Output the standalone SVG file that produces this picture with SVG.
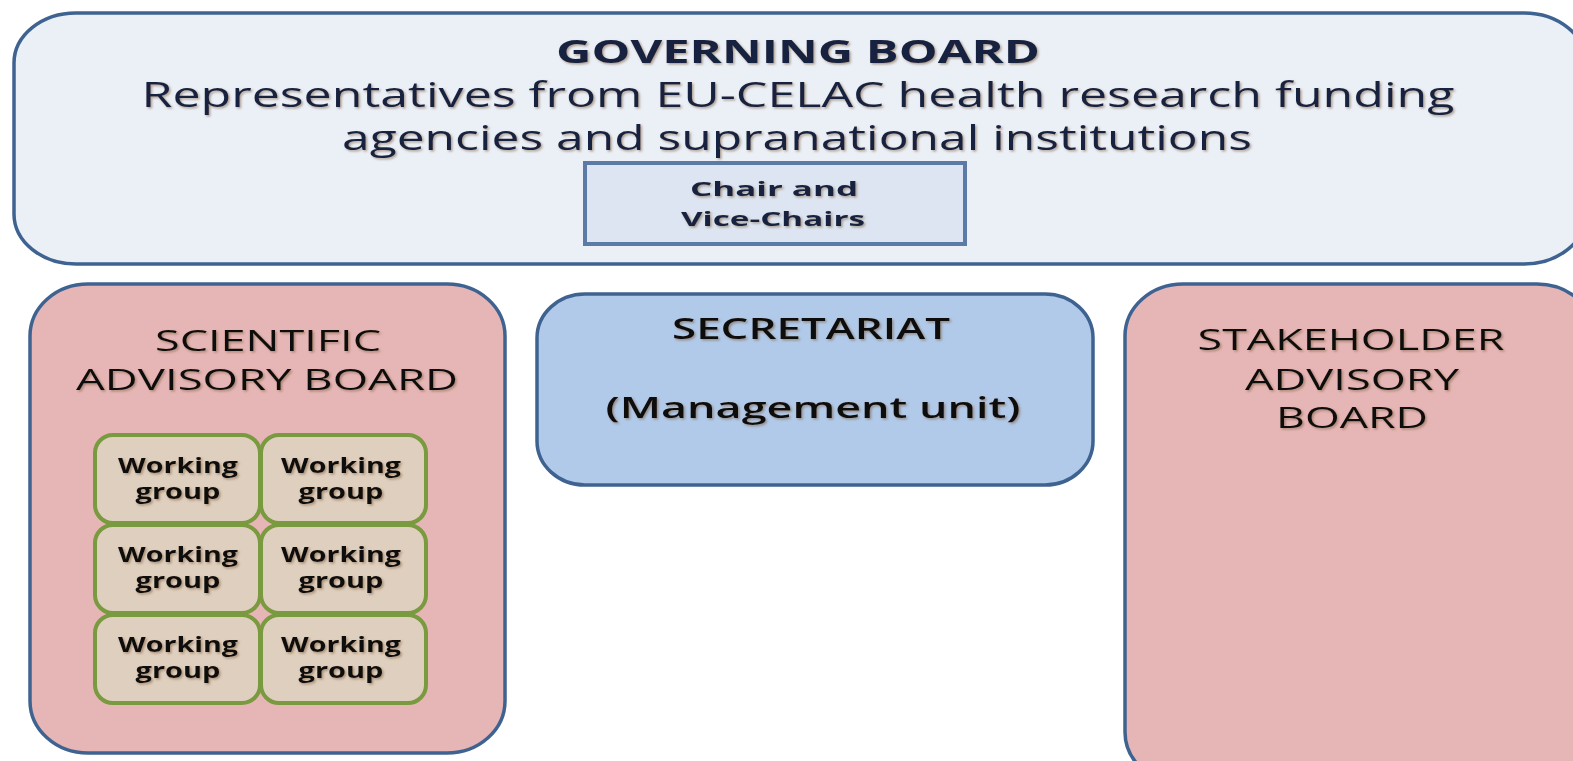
<svg xmlns="http://www.w3.org/2000/svg" width="1573" height="761" viewBox="0 0 1573 761">
<defs>
<filter id="ts" x="-5%" y="-20%" width="110%" height="140%">
<feDropShadow dx="1.5" dy="1.5" stdDeviation="1" flood-color="#7a5a3a" flood-opacity="0.55"/>
</filter>
</defs>
<style>
.box{stroke:#3f6391;stroke-width:3.5}
.gb{fill:#ebf0f7}
.pink{fill:#e6b6b6}
.sec{fill:#b1caea}
.chair{fill:#dce5f1;stroke:#5b7ba6;stroke-width:4}
.wg{fill:#dfcfbe;stroke:#7a9a40;stroke-width:4}
text{font-family:"Open Sans","Liberation Sans",sans-serif;text-anchor:middle;filter:url(#ts)}
.navy{fill:#16243f}
.blk{fill:#111111}
.b{font-weight:bold}
.m{font-weight:600}
.r{font-weight:500}
</style>
<g id="governing-board">
<rect class="box gb" x="14" y="13" width="1572" height="251" rx="62" ry="50"/>
<text class="navy b" x="798" y="63" font-size="32" textLength="484" lengthAdjust="spacingAndGlyphs">GOVERNING BOARD</text>
<text class="navy r" x="798" y="107" font-size="34" textLength="1313" lengthAdjust="spacingAndGlyphs">Representatives from EU-CELAC health research funding</text>
<text class="navy r" x="797" y="150" font-size="34" textLength="910" lengthAdjust="spacingAndGlyphs">agencies and supranational institutions</text>
</g>
<g id="chair">
<rect class="chair" x="585" y="163" width="380" height="81"/>
<text class="navy b" x="774" y="196" font-size="20" textLength="168" lengthAdjust="spacingAndGlyphs">Chair and</text>
<text class="navy b" x="773" y="226" font-size="20" textLength="184" lengthAdjust="spacingAndGlyphs">Vice-Chairs</text>
</g>
<g id="scientific-advisory-board">
<rect class="box pink" x="30" y="284" width="475" height="469" rx="58" ry="52"/>
<text class="blk r" x="268" y="351" font-size="29" textLength="226" lengthAdjust="spacingAndGlyphs">SCIENTIFIC</text>
<text class="blk r" x="267" y="390" font-size="29" textLength="382" lengthAdjust="spacingAndGlyphs">ADVISORY BOARD</text>
</g>
<g id="working-group-1">
<rect class="wg" x="95" y="435" width="165" height="88" rx="18"/>
<text class="blk b" x="178" y="473" font-size="21" textLength="120" lengthAdjust="spacingAndGlyphs">Working</text>
<text class="blk b" x="178" y="499" font-size="21" textLength="85" lengthAdjust="spacingAndGlyphs">group</text>
</g>
<g id="working-group-2">
<rect class="wg" x="261" y="435" width="165" height="88" rx="18"/>
<text class="blk b" x="341" y="473" font-size="21" textLength="120" lengthAdjust="spacingAndGlyphs">Working</text>
<text class="blk b" x="341" y="499" font-size="21" textLength="85" lengthAdjust="spacingAndGlyphs">group</text>
</g>
<g id="working-group-3">
<rect class="wg" x="95" y="525" width="165" height="88" rx="18"/>
<text class="blk b" x="178" y="562" font-size="21" textLength="120" lengthAdjust="spacingAndGlyphs">Working</text>
<text class="blk b" x="178" y="588" font-size="21" textLength="85" lengthAdjust="spacingAndGlyphs">group</text>
</g>
<g id="working-group-4">
<rect class="wg" x="261" y="525" width="165" height="88" rx="18"/>
<text class="blk b" x="341" y="562" font-size="21" textLength="120" lengthAdjust="spacingAndGlyphs">Working</text>
<text class="blk b" x="341" y="588" font-size="21" textLength="85" lengthAdjust="spacingAndGlyphs">group</text>
</g>
<g id="working-group-5">
<rect class="wg" x="95" y="615" width="165" height="88" rx="18"/>
<text class="blk b" x="178" y="652" font-size="21" textLength="120" lengthAdjust="spacingAndGlyphs">Working</text>
<text class="blk b" x="178" y="678" font-size="21" textLength="85" lengthAdjust="spacingAndGlyphs">group</text>
</g>
<g id="working-group-6">
<rect class="wg" x="261" y="615" width="165" height="88" rx="18"/>
<text class="blk b" x="341" y="652" font-size="21" textLength="120" lengthAdjust="spacingAndGlyphs">Working</text>
<text class="blk b" x="341" y="678" font-size="21" textLength="85" lengthAdjust="spacingAndGlyphs">group</text>
</g>
<g id="secretariat">
<rect class="box sec" x="537" y="294" width="556" height="191" rx="48" ry="44"/>
<text class="blk m" x="811" y="339" font-size="28" textLength="278" lengthAdjust="spacingAndGlyphs">SECRETARIAT</text>
<text class="blk m" x="813" y="418" font-size="29" textLength="415" lengthAdjust="spacingAndGlyphs">(Management unit)</text>
</g>
<g id="stakeholder-advisory-board">
<rect class="box pink" x="1125" y="284" width="470" height="500" rx="58" ry="52"/>
<text class="blk r" x="1351" y="350" font-size="29" textLength="307" lengthAdjust="spacingAndGlyphs">STAKEHOLDER</text>
<text class="blk r" x="1352" y="390" font-size="29" textLength="214" lengthAdjust="spacingAndGlyphs">ADVISORY</text>
<text class="blk r" x="1352" y="428" font-size="29" textLength="152" lengthAdjust="spacingAndGlyphs">BOARD</text>
</g>
<g id="connectors"></g>
</svg>
